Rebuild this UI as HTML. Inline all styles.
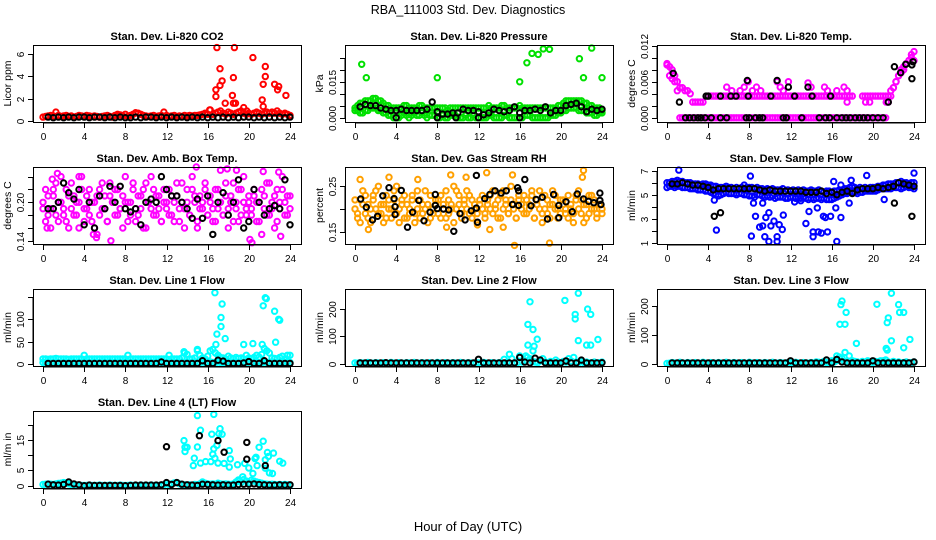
<!DOCTYPE html>
<html><head><meta charset="utf-8">
<style>
html,body{margin:0;padding:0;background:#fff;}
svg{display:block;font-family:"Liberation Sans",Arial,sans-serif;}
</style></head>
<body>
<svg id="fig" width="936" height="540" viewBox="0 0 936 540" xmlns="http://www.w3.org/2000/svg">
<text x="468" y="14" font-size="12.5" text-anchor="middle">RBA_111003  Std. Dev. Diagnostics</text>
<text x="468" y="531" font-size="13" text-anchor="middle">Hour of Day (UTC)</text>
</svg>
<script>
// ---- data arrays (colored band series use evenly spaced hours 0..24; black series hours 0.5..24 step 0.5) ----
const co2Band=[.35,.4,.45,.5,.45,.8,.5,.4,.45,.5,.4,.45,.35,.4,.5,.45,.4,.5,.45,.4,.45,.4,.35,.4,.45,.5,.4,.35,.5,.6,.55,.45,.6,.4,.5,.6,.75,.7,.6,.5,.45,.4,.45,.5,.4,.45,.5,.8,.5,.4,.45,.5,.4,.45,.4,.5,.45,.5,.45,.5,.5,.55,.6,.7,.6,1.0,.6,.7,.8,.9,.7,.6,.8,.7,.6,.7,.8,.9,.7,.6,.7,.6,.7,.8,.7,.6,.7,.8,.7,.8,.7,.9,.7,.6,.7,.6,.5];
const co2OutH=[16.9,18.6,17.2,17.4,17.2,16.8,16.8,18.5,18.4,17.7,18.5,18.7,20.4,21.6,21.6,21.4,21.3,21.4,22.5,22.9,22.8,23.6,19.5,16.2,19.8];
const co2OutV=[6.6,6.6,4.7,3.6,3.2,2.8,2.2,3.9,2.3,1.6,1.6,1.6,5.7,4.9,4.0,3.3,1.9,1.3,3.3,3.1,2.8,2.3,1.2,1.0,0.9];
const co2Black=[.35,.3,.35,.3,.35,.3,.35,.35,.3,.35,.35,.3,.35,.3,.35,.3,.3,.35,.3,.35,.35,.3,.35,.3,.35,.3,.35,.3,.35,.3,.35,.3,.35,.3,.35,.3,.35,.3,.35,.35,.3,.35,.3,.35,.3,.35,.3,.35];

const presHi=[.004,.005,.006,.006,.007,.007,.007,.008,.008,.007,.007,.006,.005,.005,.004,.004,.004,.004,.004,.005,.005,.004,.004,.004,.004,.005,.005,.004,.004,.004,.004,.004,.004,.004,.004,.004,.003,.004,.004,.004,.004,.004,.004,.004,.004,.004,.004,.004,.004,.004,.004,.004,.005,.004,.004,.004,.004,.005,.005,.004,.004,.004,.004,.004,.005,.004,.004,.004,.004,.004,.004,.004,.004,.004,.004,.004,.004,.004,.004,.005,.005,.006,.007,.007,.007,.007,.007,.007,.007,.006,.006,.005,.005,.004,.004,.004,.003];
const presLo=[.003,.003,.002,.002,.003,.003,.004,.004,.004,.003,.003,.002,.002,.001,.001,.000,.000,.000,.001,.002,.001,.000,.001,.002,.001,.001,.002,.001,.000,.001,.001,.001,.000,.000,.001,.000,.000,.001,.001,.001,.000,.000,.000,.001,.000,.000,.001,.000,.000,.000,.000,.000,.001,.001,.000,.000,.000,.000,.001,.001,.000,.000,.000,.000,.000,.000,.001,.001,.001,.000,.000,.000,.000,.000,.000,.000,.001,.001,.001,.002,.002,.003,.003,.004,.004,.004,.004,.003,.003,.003,.002,.002,.002,.001,.001,.002,.002];
const presOutH=[0.65,1.1,8.0,16.0,16.7,17.2,17.8,18.3,18.9,21.8,22.2,23.0,24.0];
const presOutV=[.0222,.0166,.0166,.0149,.0228,.0267,.0263,.0286,.0284,.0245,.0166,.0289,.0166];
const presBlack=[.0045,.0055,.005,.005,.004,.0035,.003,.003,.0035,.003,.003,.003,.003,.0035,.0065,.0025,.0015,.0015,.002,.002,.0035,.003,.003,.0025,.0012,.002,.0035,.003,.0025,.003,.0045,.002,.003,.003,.0035,.003,.0045,.002,.003,.003,.005,.0055,.006,.0045,.0025,.0035,.003,.0035];
const presBlackXH=[4,8,9.8,12,16];
const presBlackXV=[0,0,0,0,0];

const tempA=[.009,.0085,.008,.007,.006,.005,.005,.0045,.0045,.004,.0026,.0026,.0026,.0026,.0026,null,.0036,.0036,.0036,.0036,.0036,.0036,.0036,.0036,.0036,.0036,.0036,.0036,.0036,.0036,.0036,.0036,.0036,.0036,.0036,.0036,.0036,.0036,.0036,.0036,.0036,.0036,.0036,.0036,.0036,.0036,.0036,.0036,.0036,.0036,.0036,.0036,.0036,.0036,.0036,.0036,.0036,.0036,.0036,.0036,.0036,.0036,.0036,.0036,.0036,.0036,.0036,.0036,.0036,.0036,.0036,.0036,.0036,null,null,null,.0036,.0036,.0036,.0036,.0036,.0036,.0036,.0036,.0036,.0036,.0036,.0045,.005,.006,.007,.008,.0085,.009,.0095,.010,.0095];
const tempB=[.0088,.007,.0065,.006,.0045,0,0,0,0,0,0,0,0,0,0,0,0,0,0,0,0,0,0,0,0,0,0,0,0,0,0,0,0,0,0,0,0,0,0,0,0,0,0,0,0,0,0,0,0,0,0,0,0,0,0,0,0,0,0,0,0,0,0,0,0,0,0,0,0,0,0,0,0,0,0,0,0,0,0,0,0,0,0,0,0,0,.0026,.0036,.005,.006,.007,.0075,.008,.009,.0095,.0105,.011];
const tempOutH=[5.8,6.3,7.1,7.5,7.9,8.3,8.7,9.1,10.7,11.0,11.3,11.8,13.7,14.0,15.3,15.6,16.5,17.2,17.5,17.5,19.3,19.7,21.3];
const tempOutV=[.0051,.0045,.0045,.0051,.006,.0045,.0051,.0045,.006,.0051,.0045,.006,.0058,.0051,.0051,.0045,.0045,.0051,.0045,.0026,.0026,.0026,.0026];
const tempBlackH=[1.8,2.2,2.6,3,3.3,3.7,4.3,5.2,5.8,7.7,8.0,8.6,9.0,9.3,11.3,11.6,13.1,14.8,15.4,15.8,16.5,17,17.4,17.8,18.3,18.7,19.1,19.5,20,20.5,21,3.8,4.0,5.2,6.2,6.7,7.9,10.1,12.4,14.1,15.9,0.6,1.2,7.8,10.7,11.8,13.7,21.5,22.1,22.7,23.2,23.8,23.9,23.8];
const tempBlackV=[0,0,0,0,0,0,0,0,0,0,0,0,0,0,0,0,0,0,0,0,0,0,0,0,0,0,0,0,0,0,0,.0036,.0036,.0036,.0036,.0036,.0036,.0036,.0036,.0036,.0036,.0074,.0026,.0062,.0062,.0051,.0051,.0026,.0085,.0075,.0089,.0088,.0093,.0065];

const ambA=[.19,.17,.21,.16,.22,.18,.20,.24,.19,.17,.21,.23,.18,.20,.16,.22,.19,.21,.18,.17,.20,.15,.22,.19,.21,.17,.23,.20,.18,.22,.19,.16,.20,.20,.18,.23,.17,.21,.19,.22,.16,.20,.24,.18,.21,.19,.17,.22,.20,.18,.21,.17,.23,.19,.20,.16,.22,.18,.24,.20,.17,.21,.19,.23,.18,.20,.17,.22,.19,.25,.18,.21,.16,.20,.23,.19,.17,.22,.20,.18,.21,.19,.22,.17,.20,.15,.21,.18,.23,.19,.16,.22,.20,.24,.18,.21,.19];
const ambB=[.20,.22,.18,.19,.21,.23,.17,.20,.18,.22,.16,.19,.21,.18,.20,.24,.17,.19,.22,.20,.16,.21,.18,.23,.19,.17,.21,.20,.22,.18,.19,.21,.24,.17,.20,.22,.19,.18,.21,.16,.23,.20,.19,.22,.18,.21,.17,.20,.19,.22,.18,.20,.21,.17,.23,.19,.20,.18,.22,.21,.16,.19,.20,.22,.18,.21,.19,.17,.22,.20,.18,.23,.19,.21,.17,.20,.22,.18,.24,.19,.20,.18,.21,.20,.17,.22,.19,.23,.18,.20,.21,.17,.19,.22,.20,.18,.21];
const ambOutH=[1.4,0.9,5.2,6.6,14.9,20.1,20.3,23.1,4.9,17.9,18.8,21.4,22.9,0.4,3.5];
const ambOutV=[.245,.236,.145,.14,.255,.142,.137,.147,.15,.252,.25,.248,.247,.16,.24];
const ambBlack=[.19,.19,.20,.23,.215,.205,.22,.165,.20,.16,.21,.19,.225,.20,.225,.19,.185,.19,.165,.20,.205,.20,.24,.22,.21,.21,.20,.19,.175,.205,.175,.21,.15,.20,.215,.18,.20,.235,.16,.17,.22,.20,.18,.19,.195,.19,.235,.165];

const rhA=[.20,.18,.22,.24,.19,.21,.17,.23,.20,.25,.19,.21,.18,.22,.20,.24,.19,.17,.21,.23,.18,.20,.22,.19,.24,.18,.21,.20,.17,.23,.19,.21,.22,.18,.20,.24,.19,.21,.25,.20,.23,.18,.21,.24,.19,.22,.20,.17,.21,.23,.19,.22,.20,.24,.21,.18,.23,.20,.22,.19,.25,.21,.18,.22,.20,.23,.19,.21,.24,.18,.22,.20,.17,.23,.19,.21,.24,.20,.18,.22,.21,.19,.23,.20,.17,.22,.24,.19,.21,.18,.23,.20,.22,.19,.21,.20];
const rhB=[.22,.19,.17,.21,.23,.18,.20,.22,.24,.19,.21,.17,.23,.20,.18,.22,.25,.20,.22,.18,.21,.19,.23,.17,.20,.22,.19,.24,.21,.18,.20,.22,.19,.23,.21,.18,.22,.20,.17,.24,.21,.19,.22,.20,.23,.18,.21,.19,.22,.20,.18,.21,.23,.19,.20,.22,.18,.24,.21,.19,.22,.20,.18,.23,.21,.19,.22,.20,.23,.18,.21,.24,.19,.20,.22,.18,.21,.23,.20,.19,.22,.20,.18,.21,.19,.23,.20,.22,.17,.21,.19,.23,.20,.18,.21,.19];
const rhOutH=[0.5,3.3,6.1,9.3,10.8,12.8,13.1,15.3,15.5,18.9,22.2,22.1,1.3,8.9,11.9,14.4];
const rhOutV=[.265,.27,.265,.275,.27,.28,.155,.275,.12,.125,.285,.27,.155,.16,.165,.16];
const rhBlackH=[.55,1.1,1.7,2.2,2.7,3.3,3.8,3.9,3.9,4.5,5.1,5.6,6.2,6.7,7.3,7.8,7.8,8.0,8.6,9.1,9.6,10.2,10.7,11.3,11.8,11.8,11.9,12.6,13.1,13.6,14.2,14.7,15.3,15.8,15.9,15.9,16.5,17.1,17.6,18.2,18.7,19.3,19.8,19.8,20.5,21.1,21.6,22.2,22.7,23.2,23.8,23.8,23.9];
const rhBlackV=[.222,.204,.176,.184,.229,.247,.223,.205,.188,.241,.16,.193,.219,.174,.193,.232,.208,.201,.2,.198,.151,.19,.176,.196,.274,.202,.171,.223,.232,.240,.235,.240,.210,.247,.24,.208,.265,.207,.221,.226,.178,.232,.208,.181,.216,.194,.233,.222,.217,.214,.219,.235,.210];

const flowA=[6.0,6.0,6.1,6.1,6.2,6.1,6.1,6.0,6.0,6.0,5.9,5.9,5.9,5.8,5.9,5.9,5.8,5.8,5.7,5.7,5.6,5.6,5.6,5.7,5.6,5.6,5.5,5.6,5.5,5.6,5.8,5.6,5.6,5.6,5.5,5.6,5.5,5.5,5.4,5.5,5.4,5.5,5.4,5.4,5.4,5.5,5.3,5.4,5.3,5.4,5.3,5.4,5.3,5.4,5.3,5.3,5.4,5.3,5.3,5.4,5.3,5.2,5.3,5.3,5.2,5.3,5.3,5.4,5.4,5.5,5.5,5.6,5.7,5.6,5.5,5.6,5.5,5.6,5.5,5.6,5.6,5.6,5.7,5.7,5.8,5.8,5.9,5.9,5.9,6.0,6.0,6.1,6.0,6.0,5.9,6.0,6.0];
const flowB=[5.6,5.7,5.7,5.6,5.7,5.7,5.6,5.6,5.6,5.5,5.5,5.5,5.4,5.4,5.4,5.3,5.3,5.2,5.1,5.0,4.9,5.0,5.1,5.2,5.1,5.1,5.1,5.0,5.1,5.1,5.0,5.0,4.9,4.9,4.8,5.0,5.0,4.9,4.8,4.9,4.8,4.9,4.7,4.8,4.8,4.8,4.7,4.7,4.8,4.8,4.7,4.8,4.7,4.8,4.7,4.6,4.7,4.6,4.7,4.7,4.6,4.7,4.6,4.6,4.6,4.7,4.8,4.9,5.0,5.1,5.1,5.2,5.2,5.2,5.1,5.2,5.2,5.3,5.3,5.3,5.3,5.3,5.4,5.5,5.5,5.5,5.5,5.5,5.6,5.6,5.6,5.5,5.6,5.7,5.6,5.6,5.5];
const flowOutH=[1.15,4.8,4.6,8.1,8.2,8.4,8.6,9.0,9.3,9.3,9.6,9.9,9.5,9.9,10.1,10.4,10.7,10.7,10.9,11.2,11.3,13.5,13.8,14.2,14.2,14.6,14.7,15.0,15.2,15.4,15.6,15.9,16.2,16.4,16.5,16.9,16.9,17.9,17.7,19.4,21.1,24.0,13.0,12.4];
const flowOutV=[7.05,2.05,4.55,6.55,1.55,4.3,3.2,2.3,2.4,4.3,3.1,3.5,1.5,1.1,2.4,2.8,1.5,1.1,2.5,2.1,3.3,2.6,3.6,1.9,1.5,3.9,1.9,1.8,3.2,3.1,1.9,3.2,6.1,3.9,1.1,5.8,3.1,6.2,4.3,6.6,4.6,6.8,4.5,4.4];
const flowBlack=[5.9,5.9,6.0,5.9,5.8,5.8,5.7,5.6,5.4,5.5,5.5,5.5,5.5,5.5,5.5,5.5,5.5,5.4,5.3,5.4,5.3,5.3,5.3,5.3,5.3,5.3,5.2,5.2,5.2,5.3,5.1,5.2,5.0,5.2,5.3,5.1,5.4,5.5,5.5,5.5,5.6,5.5,5.6,5.7,6.0,5.9,5.8,5.7];
const flowBlackXH=[4.6,5.2,22.1,23.8];
const flowBlackXV=[3.2,3.5,4.3,3.2];

const l1A=[12,12,11,12,12,13,12,12,12,12,11,12,12,12,12,12,20,12,12,12,12,12,12,12,12,12,12,12,12,12,12,12,12,20,12,12,12,12,12,12,12,12,12,12,12,12,12,12,12,20,12,12,12,12,14,25,22,12,12,14,30,20,14,12,18,30,33,25,20,15,14,12,18,14,12,15,13,14,12,20,14,12,15,20,16,22,35,30,25,14,13,12,15,18,12,20,20];
const l1B=[4,3,5,4,3,5,4,3,5,4,3,5,4,3,5,4,3,5,4,3,5,4,3,5,4,3,5,4,3,5,4,3,5,4,3,5,4,3,5,4,3,5,4,3,5,4,3,5,4,3,5,4,3,5,4,3,5,4,3,5,4,3,5,4,3,5,4,3,5,4,3,5,4,3,5,4,3,5,4,3,5,4,3,5,4,3,5,4,3,5,4,3,5,4,3,5,4];
const l1OutH=[16.7,17.4,17.3,17.3,16.9,16.8,17.7,19.5,20.4,21.4,21.6,21.7,22.5,22.9,23.0,22.6,21.3,13.7,15.0];
const l1OutV=[159,134,104,84,67,44,57,44,46,130,148,146,118,100,98,49,44,28,33];
const l1Black=[2,2,2,2,2,2,2,2,2,2,2,2,2,2,2,2,2,2,2,2,2,2,5,2,2,2,2,2,2,2,8,2,2,9,7,2,2,2,3,6,2,2,8,2,2,2,2,2];

const l2Base=[5,4,6,5,3,7,5,4,6,5,4,6,5,3,7,5,4,6,5,4,6,5,3,7,5,4,6,5,4,6,5,3,7,5,4,6,5,4,6,5,3,7,5,4,6,5,4,6,5,3,7,5,4,6,5,4,6,5,18,7,5,20,6,5,30,8,12,25,20,10,8,6,12,20,8,6,10,6,15,8,6,10,8,20,12,25,8,6,10,6,8,5,6,8,5,6,8];
const l2OutH=[17.0,16.8,17.3,16.8,17.4,17.3,17.7,20.4,21.7,21.4,21.4,21.7,22.6,22.9,22.5,22.9,23.6,15.0,16.6];
const l2OutV=[224,143,125,69,65,48,90,229,255,179,163,85,198,179,69,69,89,36,30];
const l2Black=[5,5,5,5,5,6,5,5,5,5,5,5,5,5,5,5,5,5,5,5,5,5,5,18,5,5,5,5,5,5,5,25,8,5,22,15,5,5,5,5,12,5,5,15,5,5,5,6];

const l3Base=[3,4,6,5,3,7,5,4,6,5,4,6,5,3,7,5,4,6,5,4,6,5,3,7,5,4,6,5,4,6,5,3,7,5,4,6,5,4,6,5,3,7,5,4,6,5,4,6,5,3,7,5,4,6,5,4,6,5,8,7,5,10,6,5,12,8,12,25,20,10,8,6,12,10,8,6,10,6,12,8,6,10,8,12,12,15,8,6,10,6,8,5,6,8,5,6,8];
const l3OutH=[16.9,17.0,16.8,17.3,17.4,17.3,17.7,18.4,20.4,21.4,21.5,21.3,21.4,21.8,21.8,22.5,22.6,23.0,23.0,23.6,16.5];
const l3OutV=[206,218,138,138,179,41,29,72,207,144,160,55,49,245,81,206,179,179,57,86,29];
const l3Black=[5,5,5,5,5,5,5,5,5,5,5,5,5,5,5,5,5,5,5,5,5,5,5,12,5,5,5,5,5,5,15,5,17,8,5,5,5,5,5,12,5,5,5,5,5,5,5,8];

const l4Base=[.4,.5,.6,.5,.4,.6,.7,.8,1.0,.9,.6,.4,.3,.2,.2,.1,.1,.1,.2,.1,.1,.1,.2,.1,.1,.1,.2,.1,.1,.1,.2,.1,.1,.1,.2,.1,.1,.1,.2,.1,.1,.1,.2,.1,.1,.1,.2,.3,.8,.4,.6,.9,1.0,.6,.4,.3,.2,.3,.2,.4,.3,.6,1.2,.8,.6,.5,.6,.5,.8,.6,.5,.6,.5,.4,.6,1.2,1.6,1.0,2.0,1.5,1.0,1.8,1.5,1.2,1.0,.8,.6,.5,.4,.5,.4,.3,.4,.3,.4,.3,.2];
const l4OutH=[15.0,16.6,15.3,17.2,17.1,17.4,16.4,13.7,13.8,14.0,13.8,15.0,16.9,16.6,16.5,16.7,14.7,14.6,15.3,15.8,16.3,17.0,17.6,18.1,18.2,18.1,18.9,19.6,20.0,20.4,19.4,20.6,20.8,21.0,21.4,21.6,21.6,21.8,21.9,22.0,22.3,22.4,23.0,23.3,20.7,19.0];
const l4OutV=[23.0,23.4,18.2,18.7,17.1,16.9,16.9,14.8,12.6,12.6,11.2,12.7,13.2,12.1,10.3,9.0,9.0,6.6,7.4,7.9,7.9,7.4,7.3,6.1,8.8,11.5,6.9,7.3,5.8,4.0,2.9,8.9,6.6,12.6,14.6,8.5,5.7,10.9,9.6,4.2,4.0,10.7,8.0,7.4,9.3,1.9];
const l4Black=[.5,.3,.2,.4,1.2,.6,.3,0,.2,.1,.1,.1,.1,.1,.1,0,.1,.2,.2,.2,.2,.2,.3,1.0,.4,1.0,.5,.3,.2,.1,.5,.4,.3,.2,.3,.2,.2,.4,.5,.5,.6,.4,.3,.2,.2,.3,.2,.3];
const l4BlackXH=[12,15.2,17.0,17.6,19.8,19.8,21.6];
const l4BlackXV=[12.8,16.4,14.8,11.0,14.2,8.7,6.6];

const xTicks=[0,4,8,12,16,20,24];

// ---- figure ----
const svg=document.getElementById('fig');
const NS='http://www.w3.org/2000/svg';
function mk(tag,attrs,parent){const e=document.createElementNS(NS,tag);for(const k in attrs)e.setAttribute(k,attrs[k]);(parent||svg).appendChild(e);return e;}
const BW=268,BH=77;
function evenH(arr){return arr.map((v,i)=>i*24/(arr.length-1));}
function halfH(arr){return arr.map((v,i)=>0.5+i*0.5);}

const panels=[
 {key:'co2',title:'Stan. Dev. Li-820 CO2',ylab:'Licor ppm',c:0,r:0,dom:[-0.09,6.83],ticks:[0,2,4,6],labels:['0','2','4','6'],col:'#ff0000',
  series:[[evenH(co2Band),co2Band],[co2OutH,co2OutV]],black:[[halfH(co2Black),co2Black]]},
 {key:'pressure',title:'Stan. Dev. Li-820 Pressure',ylab:'kPa',c:1,r:0,dom:[-0.0018,0.0302],ticks:[0,.005,.01,.015,.02,.025],labels:['0.000','','','0.015','',''],col:'#00e000',
  series:[[evenH(presHi),presHi],[evenH(presLo),presLo],[presOutH,presOutV]],black:[[halfH(presBlack),presBlack],[presBlackXH,presBlackXV]]},
 {key:'temp',title:'Stan. Dev. Li-820 Temp.',ylab:'degrees C',c:2,r:0,dom:[-0.0007,0.0121],ticks:[0,.002,.004,.006,.008,.010,.012],labels:['0.000','','','0.006','','','0.012'],col:'#ff00ff',
  series:[[evenH(tempA),tempA],[evenH(tempB),tempB],[tempOutH,tempOutV]],black:[[tempBlackH,tempBlackV]]},
 {key:'ambtemp',title:'Stan. Dev. Amb. Box Temp.',ylab:'degrees C',c:0,r:1,dom:[0.135,0.255],ticks:[.14,.16,.18,.20,.22,.24],labels:['0.14','','','0.20','',''],col:'#ff00ff',
  series:[[evenH(ambA),ambA],[evenH(ambB),ambB],[ambOutH,ambOutV]],black:[[halfH(ambBlack),ambBlack]]},
 {key:'rh',title:'Stan. Dev. Gas Stream RH',ylab:'percent',c:1,r:1,dom:[0.123,0.2925],ticks:[.15,.20,.25],labels:['0.15','','0.25'],col:'#ffa000',
  series:[[evenH(rhA),rhA],[evenH(rhB),rhB],[rhOutH,rhOutV]],black:[[rhBlackH,rhBlackV]]},
 {key:'sampleflow',title:'Stan. Dev. Sample Flow',ylab:'ml/min',c:2,r:1,dom:[0.89,7.31],ticks:[1,2,3,4,5,6,7],labels:['1','','3','','5','','7'],col:'#0000ff',
  series:[[evenH(flowA),flowA],[evenH(flowB),flowB],[flowOutH,flowOutV]],black:[[halfH(flowBlack),flowBlack],[flowBlackXH,flowBlackXV]]},
 {key:'line1',title:'Stan. Dev. Line 1 Flow',ylab:'ml/min',c:0,r:2,dom:[-3.8,167.3],ticks:[0,50,100,150],labels:['0','50','100',''],col:'#00ffff',
  series:[[evenH(l1A),l1A],[evenH(l1B),l1B],[l1OutH,l1OutV]],black:[[halfH(l1Black),l1Black]]},
 {key:'line2',title:'Stan. Dev. Line 2 Flow',ylab:'ml/min',c:1,r:2,dom:[-6,270],ticks:[0,100,200],labels:['0','100','200'],col:'#00ffff',
  series:[[evenH(l2Base),l2Base],[l2OutH,l2OutV]],black:[[halfH(l2Black),l2Black]]},
 {key:'line3',title:'Stan. Dev. Line 3 Flow',ylab:'ml/min',c:2,r:2,dom:[-5.8,259.8],ticks:[0,100,200],labels:['0','100','200'],col:'#00ffff',
  series:[[evenH(l3Base),l3Base],[l3OutH,l3OutV]],black:[[halfH(l3Black),l3Black]]},
 {key:'line4',title:'Stan. Dev. Line 4 (LT) Flow',ylab:'ml/m in',c:0,r:3,dom:[-0.76,24.5],ticks:[0,5,10,15,20],labels:['0','5','','15',''],col:'#00ffff',
  series:[[evenH(l4Base),l4Base],[l4OutH,l4OutV]],black:[[halfH(l4Black),l4Black],[l4BlackXH,l4BlackXV]]}
];

panels.forEach(p=>{
  const L=33+p.c*312, T=45+p.r*122, B=T+BH;
  const g=mk('g',{});
  
  
  const xs=h=>L+10+h*(247/24);
  const ys=v=>B-(v-p.dom[0])/(p.dom[1]-p.dom[0])*BH;
  const t=mk('text',{x:L+BW/2,y:T-5,'font-size':11,'font-weight':'bold','text-anchor':'middle'},g);
  t.textContent=p.title;
  
  
  const yl=mk('text',{transform:`translate(${L-22},${T+BH/2}) rotate(-90)`,'font-size':10.5,'text-anchor':'middle'},g);
  yl.textContent=p.ylab;
  
  
  const cg=mk('g',{fill:'none',stroke:p.col,'stroke-width':2},g);
  
  
  p.series.forEach(([hs,vs])=>{vs.forEach((v,i)=>{if(v===null)return;
    const c=mk('circle',{cx:xs(hs[i]).toFixed(1),cy:ys(v).toFixed(1),r:2.7},cg);
    
    });});
  const bg=mk('g',{fill:'none',stroke:'#000','stroke-width':2},g);
  
  
  p.black.forEach(([hs,vs])=>{vs.forEach((v,i)=>{
    const c=mk('circle',{cx:xs(hs[i]).toFixed(1),cy:ys(v).toFixed(1),r:2.7},bg);
    
    });});
  const box=mk('rect',{x:L+0.5,y:T+0.5,width:BW,height:BH,fill:'none',stroke:'#000','stroke-width':1},g);
  
  
  xTicks.forEach(h=>{const x=Math.round(xs(h))+0.5;
    mk('line',{x1:x,x2:x,y1:B+1,y2:B+6,stroke:'#000'},g);
    const tl=mk('text',{x:x,y:B+18,'font-size':10,'text-anchor':'middle'},g);
    tl.textContent=h;
    
    });
  mk('line',{x1:Math.round(xs(0))+0.5,x2:Math.round(xs(24))+0.5,y1:B+1,y2:B+1,stroke:'#000'},g);
  p.ticks.forEach((v,i)=>{const y=Math.round(ys(v))+0.5;
    mk('line',{x1:L-5,x2:L,y1:y,y2:y,stroke:'#000'},g);
    if(p.labels[i]){const tl=mk('text',{transform:`translate(${L-9},${y}) rotate(-90)`,'font-size':10,'text-anchor':'middle'},g);
      tl.textContent=p.labels[i];
      
      }});
  mk('line',{x1:L,x2:L,y1:Math.round(ys(p.ticks[0]))+0.5,y2:Math.round(ys(p.ticks[p.ticks.length-1]))+0.5,stroke:'#000'},g);
});
</script>
</body></html>
